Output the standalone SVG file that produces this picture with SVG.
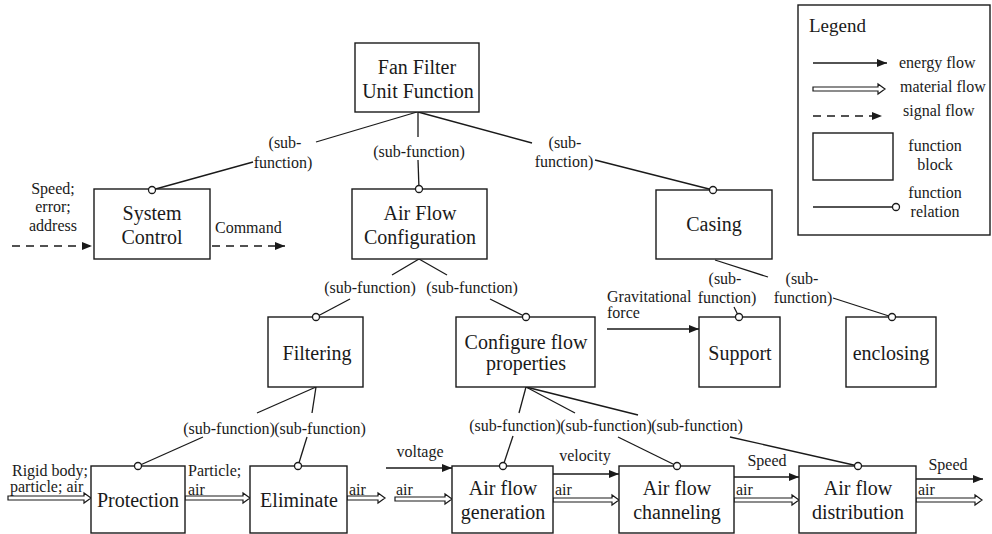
<svg xmlns="http://www.w3.org/2000/svg" width="992" height="534" viewBox="0 0 992 534" font-family="'Liberation Serif', Tinos, 'Times New Roman', Times, 'Nimbus Roman', 'Nimbus Roman No9 L', 'DejaVu Serif', FreeSerif, serif">
  <style>
    .box { fill: #fff; stroke: #1a1a1a; stroke-width: 1.4; }
    .ln { fill: none; stroke: #1a1a1a; stroke-width: 1.3; }
    .dash { fill: none; stroke: #1a1a1a; stroke-width: 1.6; stroke-dasharray: 8 6; }
    .mat { fill: #fff; stroke: #1a1a1a; stroke-width: 1.2; }
    .dot { fill: #fff; stroke: #1a1a1a; stroke-width: 1.3; }
    text { font-family: 'Liberation Serif', Tinos, 'Times New Roman', Times, 'Nimbus Roman', 'Nimbus Roman No9 L', 'DejaVu Serif', FreeSerif, serif; fill: #1a1a1a; }
    .big { font-size: 20px; text-anchor: middle; }
    .sm { font-size: 16px; }
    .c { text-anchor: middle; }
  </style>
  <defs>
    <marker id="head" viewBox="0 0 10 8" refX="10" refY="4" markerWidth="10" markerHeight="8" markerUnits="userSpaceOnUse" orient="auto">
      <path d="M0,0 L10,4 L0,8 Z" fill="#1a1a1a"/>
    </marker>
  </defs>

  <!-- function relations (tree links) -->
  <g id="relations">
    <!-- root to level 1 -->
    <line class="ln" x1="417" y1="112" x2="316" y2="142"/>
    <line class="ln" x1="253" y1="162" x2="152" y2="190"/>
    <line class="ln" x1="418" y1="112" x2="418" y2="137"/>
    <line class="ln" x1="418" y1="160" x2="419" y2="189"/>
    <line class="ln" x1="418" y1="112" x2="532" y2="143"/>
    <line class="ln" x1="595" y1="160" x2="713" y2="190"/>
    <!-- Air Flow Configuration children -->
    <line class="ln" x1="419" y1="259" x2="392" y2="275"/>
    <line class="ln" x1="419" y1="259" x2="447" y2="275"/>
    <line class="ln" x1="350" y1="299" x2="316" y2="317"/>
    <line class="ln" x1="490" y1="299" x2="526" y2="317"/>
    <!-- Casing children -->
    <line class="ln" x1="715" y1="260" x2="768" y2="277"/>
    <line class="ln" x1="833" y1="298" x2="892" y2="317"/>
    <line class="ln" x1="734" y1="307" x2="739" y2="317"/>
    <!-- Filtering children -->
    <line class="ln" x1="316" y1="387" x2="257" y2="413"/>
    <line class="ln" x1="316" y1="387" x2="312" y2="413"/>
    <line class="ln" x1="203" y1="437" x2="138" y2="466"/>
    <line class="ln" x1="307" y1="437" x2="298" y2="466"/>
    <!-- Configure flow properties children -->
    <line class="ln" x1="526" y1="387" x2="519" y2="413"/>
    <line class="ln" x1="526" y1="387" x2="575" y2="413"/>
    <line class="ln" x1="526" y1="387" x2="638" y2="415"/>
    <line class="ln" x1="513" y1="436" x2="503" y2="466"/>
    <line class="ln" x1="618" y1="437" x2="677" y2="466"/>
    <line class="ln" x1="730" y1="437" x2="858" y2="466"/>
  </g>

  <!-- flows -->
  <g id="flows">
    <!-- signal flows -->
    <line class="dash" x1="12" y1="246" x2="92" y2="246" marker-end="url(#head)"/>
    <line class="dash" x1="212" y1="246" x2="285" y2="246" marker-end="url(#head)"/>
    <!-- energy flows -->
    <line class="ln" x1="607" y1="329" x2="699" y2="329" marker-end="url(#head)"/>
    <line class="ln" x1="386" y1="468" x2="452" y2="468" marker-end="url(#head)"/>
    <line class="ln" x1="553" y1="474" x2="619" y2="474" marker-end="url(#head)"/>
    <line class="ln" x1="734" y1="477" x2="799" y2="477" marker-end="url(#head)"/>
    <line class="ln" x1="916" y1="479" x2="983" y2="479" marker-end="url(#head)"/>
    <!-- material flows (double-line arrows) -->
    <path class="mat" d="M8,496 H84 V493 L91,498 L84,503 V500 H8 Z"/>
    <path class="mat" d="M185,496 H243 V493 L250,498 L243,503 V500 H185 Z"/>
    <path class="mat" d="M347,496 H378 V493 L385,498 L378,503 V500 H347 Z"/>
    <path class="mat" d="M395,497 H445 V494 L452,499 L445,504 V501 H395 Z"/>
    <path class="mat" d="M553,498 H612 V495 L619,500 L612,505 V502 H553 Z"/>
    <path class="mat" d="M734,498 H792 V495 L799,500 L792,505 V502 H734 Z"/>
    <path class="mat" d="M916,498 H975 V495 L982,500 L975,505 V502 H916 Z"/>
  </g>

  <!-- nodes -->
  <g id="fan-filter-unit">
    <rect class="box" x="355" y="43" width="124" height="69"/>
    <text class="big" x="417" y="74">Fan Filter</text>
    <text class="big" x="418" y="98">Unit Function</text>
  </g>
  <g id="system-control">
    <rect class="box" x="94" y="189" width="116" height="70"/>
    <circle class="dot" cx="152" cy="190" r="3.5"/>
    <text class="big" x="152" y="220">System</text>
    <text class="big" x="152" y="244">Control</text>
  </g>
  <g id="air-flow-configuration">
    <rect class="box" x="352" y="189" width="135" height="70"/>
    <circle class="dot" cx="419" cy="189" r="3.5"/>
    <text class="big" x="420" y="220">Air Flow</text>
    <text class="big" x="420" y="244">Configuration</text>
  </g>
  <g id="casing">
    <rect class="box" x="656" y="190" width="116" height="69"/>
    <circle class="dot" cx="713" cy="190" r="3.5"/>
    <text class="big" x="714" y="231">Casing</text>
  </g>
  <g id="filtering">
    <rect class="box" x="268" y="317" width="95" height="70"/>
    <circle class="dot" cx="316" cy="317" r="3.5"/>
    <text class="big" x="317" y="360">Filtering</text>
  </g>
  <g id="configure-flow-properties">
    <rect class="box" x="456" y="317" width="139" height="70"/>
    <circle class="dot" cx="526" cy="317" r="3.5"/>
    <text class="big" x="526" y="349">Configure flow</text>
    <text class="big" x="526" y="370">properties</text>
  </g>
  <g id="support">
    <rect class="box" x="699" y="317" width="81" height="70"/>
    <circle class="dot" cx="739" cy="317" r="3.5"/>
    <text class="big" x="740" y="360">Support</text>
  </g>
  <g id="enclosing">
    <rect class="box" x="846" y="317" width="90" height="70"/>
    <circle class="dot" cx="892" cy="317" r="3.5"/>
    <text class="big" x="891" y="360">enclosing</text>
  </g>
  <g id="protection">
    <rect class="box" x="91" y="466" width="94" height="67"/>
    <circle class="dot" cx="138" cy="466" r="3.5"/>
    <text class="big" x="138" y="507">Protection</text>
  </g>
  <g id="eliminate">
    <rect class="box" x="250" y="466" width="97" height="67"/>
    <circle class="dot" cx="298" cy="466" r="3.5"/>
    <text class="big" x="299" y="507">Eliminate</text>
  </g>
  <g id="air-flow-generation">
    <rect class="box" x="452" y="466" width="101" height="67"/>
    <circle class="dot" cx="503" cy="466" r="3.5"/>
    <text class="big" x="503" y="495">Air flow</text>
    <text class="big" x="503" y="519">generation</text>
  </g>
  <g id="air-flow-channeling">
    <rect class="box" x="619" y="466" width="115" height="67"/>
    <circle class="dot" cx="677" cy="466" r="3.5"/>
    <text class="big" x="677" y="495">Air flow</text>
    <text class="big" x="677" y="519">channeling</text>
  </g>
  <g id="air-flow-distribution">
    <rect class="box" x="799" y="466" width="117" height="67"/>
    <circle class="dot" cx="858" cy="466" r="3.5"/>
    <text class="big" x="858" y="495">Air flow</text>
    <text class="big" x="858" y="519">distribution</text>
  </g>

  <!-- relation and flow labels -->
  <g id="labels">
    <text class="sm c" x="285" y="148">(sub-</text>
    <text class="sm c" x="283" y="168">function)</text>
    <text class="sm c" x="419" y="157">(sub-function)</text>
    <text class="sm c" x="565" y="148">(sub-</text>
    <text class="sm c" x="564" y="167">function)</text>
    <text class="sm c" x="370" y="293">(sub-function)</text>
    <text class="sm c" x="472" y="293">(sub-function)</text>
    <text class="sm c" x="725" y="284">(sub-</text>
    <text class="sm c" x="727" y="303">function)</text>
    <text class="sm c" x="802" y="284">(sub-</text>
    <text class="sm c" x="803" y="303">function)</text>
    <text class="sm c" x="229" y="434">(sub-function)</text>
    <text class="sm c" x="320" y="434">(sub-function)</text>
    <text class="sm c" x="515" y="431">(sub-function)</text>
    <text class="sm c" x="606" y="431">(sub-function)</text>
    <text class="sm c" x="697" y="431">(sub-function)</text>

    <text class="sm c" x="53" y="194">Speed;</text>
    <text class="sm c" x="53" y="212">error;</text>
    <text class="sm c" x="53" y="231">address</text>
    <text class="sm" x="215" y="233">Command</text>
    <text class="sm" x="607" y="302">Gravitational</text>
    <text class="sm" x="607" y="318">force</text>
    <text class="sm" x="12" y="476">Rigid body;</text>
    <text class="sm" x="10" y="492">particle; air</text>
    <text class="sm" x="188" y="476">Particle;</text>
    <text class="sm" x="188" y="495">air</text>
    <text class="sm" x="349" y="495">air</text>
    <text class="sm c" x="420" y="457">voltage</text>
    <text class="sm" x="396" y="495">air</text>
    <text class="sm c" x="585" y="461">velocity</text>
    <text class="sm" x="555" y="495">air</text>
    <text class="sm c" x="767" y="466">Speed</text>
    <text class="sm" x="736" y="495">air</text>
    <text class="sm c" x="948" y="470">Speed</text>
    <text class="sm" x="918" y="495">air</text>
  </g>

  <!-- legend -->
  <g id="legend">
    <rect class="box" x="798" y="5" width="192" height="230"/>
    <text x="809" y="32" style="font-size:19px">Legend</text>
    <line class="ln" x1="813" y1="63" x2="887" y2="63" marker-end="url(#head)"/>
    <text class="sm" x="899" y="68">energy flow</text>
    <path class="mat" d="M813,87 H878 V84 L885,89 L878,94 V91 H813 Z"/>
    <text class="sm" x="900" y="92">material flow</text>
    <line class="dash" x1="813" y1="116" x2="882" y2="116" marker-end="url(#head)"/>
    <text class="sm" x="903" y="116">signal flow</text>
    <rect class="box" x="813" y="133" width="80" height="47"/>
    <text class="sm c" x="935" y="151">function</text>
    <text class="sm c" x="935" y="170">block</text>
    <line class="ln" x1="813" y1="207" x2="892" y2="207"/>
    <circle class="dot" cx="896" cy="207" r="3.5"/>
    <text class="sm c" x="935" y="198">function</text>
    <text class="sm c" x="935" y="217">relation</text>
  </g>
</svg>
